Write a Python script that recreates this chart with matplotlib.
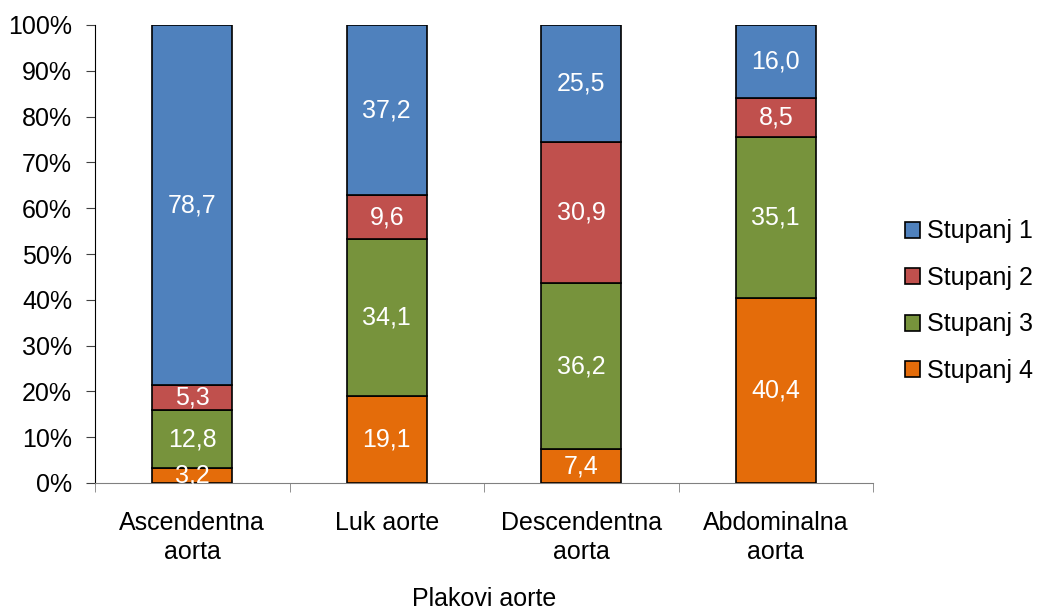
import matplotlib
matplotlib.use("Agg")
import matplotlib.pyplot as plt
import numpy as np

categories = ["Ascendentna\naorta", "Luk aorte", "Descendentna\naorta", "Abdominalna\naorta"]
series_names = ["Stupanj 1", "Stupanj 2", "Stupanj 3", "Stupanj 4"]
stupanj1 = [78.7, 37.2, 25.5, 16.0]
stupanj2 = [5.3, 9.6, 30.9, 8.5]
stupanj3 = [12.8, 34.1, 36.2, 35.1]
stupanj4 = [3.2, 19.1, 7.4, 40.4]
colors = ["#4F81BD", "#C0504D", "#77933C", "#E46C0A"]

plt.rcParams["font.family"] = ["Liberation Sans", "DejaVu Sans"]
plt.rcParams["font.size"] = 18

fig = plt.figure(figsize=(10.39, 6.10), dpi=100)
ax = fig.add_axes([95 / 1039, 1 - 483 / 610, (873 - 95) / 1039, (483 - 25) / 610])

x = np.arange(len(categories))
# stacked from bottom: Stupanj 4, 3, 2, 1
stack = [(stupanj4, colors[3], series_names[3]),
         (stupanj3, colors[2], series_names[2]),
         (stupanj2, colors[1], series_names[1]),
         (stupanj1, colors[0], series_names[0])]
bottom = np.zeros(len(categories))
handles = {}
for vals, col, name in stack:
    vals = np.array(vals)
    b = ax.bar(x, vals, width=0.41, bottom=bottom, color=col, edgecolor="black",
               linewidth=1.2, label=name, zorder=3)
    handles[name] = b
    for xi, v, bt in zip(x, vals, bottom):
        ax.text(xi, bt + v / 2, f"{v:.1f}".replace(".", ","), ha="center", va="center",
                color="white", fontsize=18, zorder=4)
    bottom += vals

ax.set_xlim(-0.5, 3.5)
ax.set_ylim(0, 100)
ax.set_yticks(np.arange(0, 101, 10))
ax.set_yticklabels([f"{t}%" for t in range(0, 101, 10)])
ax.set_xticks(x)
ax.set_xticklabels(categories, linespacing=1.25)
ax.set_xticks(np.arange(-0.5, 3.6, 1), minor=True)
ax.tick_params(axis="x", which="major", length=0, pad=20)
ax.tick_params(axis="x", which="minor", length=6.5, direction="out", color="#808080")
ax.tick_params(axis="y", length=6.5, direction="out", pad=10, color="#404040")
ax.spines["top"].set_visible(False)
ax.spines["right"].set_visible(False)
ax.spines["bottom"].set_color("#808080")
ax.spines["left"].set_color("black")
ax.set_xlabel("Plakovi aorte", labelpad=17)

leg = ax.legend([handles[n] for n in series_names], series_names, loc="center left",
                bbox_to_anchor=(1.012, 0.397), frameon=False, handlelength=0.6,
                handleheight=0.6, handletextpad=0.3, labelspacing=0.9, fontsize=18)

fig.savefig("out.png", dpi=100)
